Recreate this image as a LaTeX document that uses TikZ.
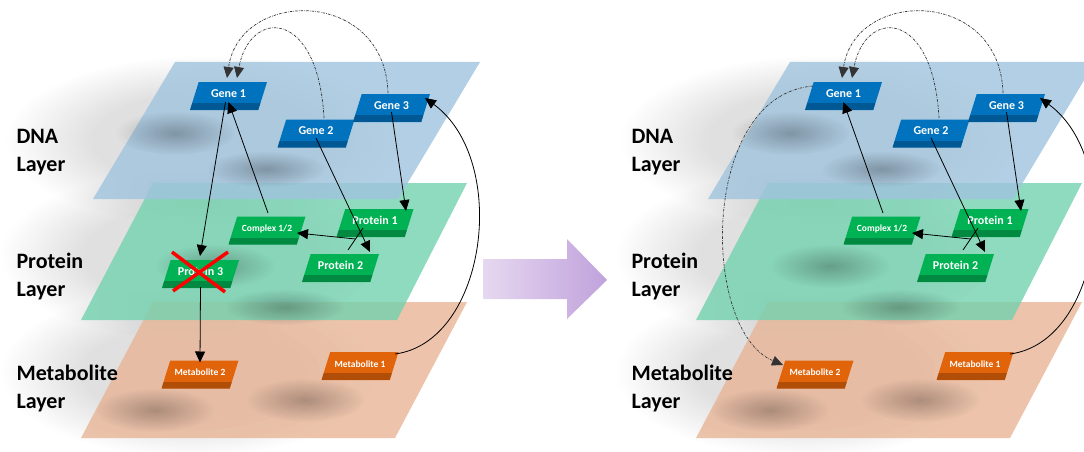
\documentclass[tikz,border=0pt]{standalone}
\usepackage{fontspec}
\setmainfont{Carlito}
\usepackage{xcolor}
\usepackage{tikz}
\usetikzlibrary{shapes.geometric, arrows.meta, positioning, calc, fadings}

\definecolor{dnablue}{RGB}{160,195,222}
\definecolor{protgreen}{RGB}{115,210,175}
\definecolor{metaborange}{RGB}{232,180,150}
\definecolor{geneblue}{RGB}{0,114,190}
\definecolor{nodegreen}{RGB}{0,178,84}
\definecolor{nodeorange}{RGB}{226,100,10}
\definecolor{arrowleft}{RGB}{230,216,240}
\definecolor{arrowright}{RGB}{192,162,220}

\pgfdeclareradialshading{blobshade}{\pgfpointorigin}{color(0bp)=(white!85!black); color(25bp)=(black); color(50bp)=(black)}
\pgfdeclarefading{blob}{\pgfuseshading{blobshade}}
\pgfdeclareradialshading{glowshade}{\pgfpointorigin}{color(0bp)=(white); color(14bp)=(white); color(25bp)=(black); color(50bp)=(black)}
\pgfdeclarefading{glow}{\pgfuseshading{glowshade}}

\tikzset{
    layer/.style={
        opacity=0.8
    },
    layerlabel/.style={
        anchor=west,
        align=left,
        font=\bfseries\fontsize{22}{28}\selectfont
    },
    block/.style={
        trapezium,
        trapezium left angle=59,
        trapezium right angle=121,
        trapezium stretches body,
        minimum width=77pt,
        minimum height=28pt,
        inner sep=0pt,
        text=white,
        text height=8.5pt,
        text depth=6pt,
        path picture={\fill[black,opacity=.22] (path picture bounding box.south west) rectangle ([yshift=7pt]path picture bounding box.south east);}
    },
    gene/.style={
        block,
        fill=geneblue,
        font=\bfseries\fontsize{12}{13}\selectfont
    },
    protein/.style={
        block,
        fill=nodegreen,
        font=\bfseries\fontsize{12}{13}\selectfont
    },
    metab/.style={
        block,
        fill=nodeorange,
        font=\bfseries\fontsize{9.5}{11}\selectfont
    },
    wire/.style={
        draw=black,
        line width=0.8pt,
        -{Triangle[length=11pt,width=10pt]}
    },
    loopwire/.style={
        draw=black!80,
        line width=0.7pt,
        dash pattern=on 2.5pt off 1.2pt on 0.6pt off 1.2pt,
        -{Triangle[length=11pt,width=10pt]}
    },
    crossmark/.style={
        draw=red,
        line width=3.5pt
    }
}

\begin{document}
\begin{tikzpicture}[x=1pt, y=-1pt]
\useasboundingbox (0,0) rectangle (1084,452);
\clip (0,0) rectangle (1084,452);

\foreach \p/\dx in {a/0, b/615} {
\begin{scope}[shift={(\dx,0)}]

% Shadows
\fill[black, opacity=.12, path fading=glow] (205,140) ellipse (200 and 85);
\fill[black, opacity=.12, path fading=glow] (190,255) ellipse (190 and 85);
\fill[black, opacity=.12, path fading=glow] (190,372) ellipse (190 and 85);

% Layers
\fill[metaborange, layer] (153,302) -- (467,302) -- (395,438) -- (81,438) -- cycle;
\fill[black, opacity=.3, path fading=blob] (155,410) ellipse (60 and 22);
\fill[black, opacity=.3, path fading=blob] (305,400) ellipse (60 and 22);
\fill[protgreen, layer] (153,183) -- (467,183) -- (397,320) -- (81,320) -- cycle;
\fill[black, opacity=.3, path fading=blob] (215,266) ellipse (60 and 22);
\fill[black, opacity=.3, path fading=blob] (285,307) ellipse (60 and 18);
\fill[dnablue, layer] (175,62) -- (480,62) -- (398,199) -- (93,199) -- cycle;
\fill[black, opacity=.3, path fading=blob] (175,133) ellipse (60 and 22);
\fill[black, opacity=.3, path fading=blob] (266,169) ellipse (60 and 18);

% Labels
\node[layerlabel] (dna\p) at (13,152) {DNA\\Layer};
\node[layerlabel] (prot\p) at (13,277) {Protein\\Layer};
\node[layerlabel] (meta\p) at (13,389) {Metabolite\\Layer};

% Genes
\node[gene] (g1\p) at (228.5,96) {Gene 1};
\node[gene] (g2\p) at (316,133.5) {Gene 2};
\node[gene] (g3\p) at (391.5,108) {Gene 3};

% Proteins
\node[protein, font=\bfseries\fontsize{9.5}{11}\selectfont] (cx\p) at (267,230.5) {Complex 1/2};
\node[protein] (p1\p) at (375,223) {Protein 1};
\node[protein] (p2\p) at (340.5,268) {Protein 2};

% Metabolites
\node[metab] (m2\p) at (200,374.5) {Metabolite 2};
\node[metab] (m1\p) at (360,366) {Metabolite 1};

% Links
\draw[wire] ([xshift=1pt,yshift=17.5pt]cx\p.center) -- ([yshift=-6pt]g1\p.center);
\draw[wire] ([yshift=-4.5pt]g2\p.center) -- ([xshift=29.5pt,yshift=16pt]p2\p.center);
\draw[wire] ([yshift=-4pt]g3\p.center) -- ([xshift=31pt,yshift=12pt]p1\p.center);
\draw[line width=0.8pt] ([xshift=-12pt,yshift=-5pt]p1\p.center) coordinate (b1\p) -- ([xshift=7.5pt,yshift=18pt]p2\p.center) coordinate (b2\p);
\draw[wire] ($(b1\p)!0.5!(b2\p)$) -- ([xshift=30pt,yshift=-2.5pt]cx\p.center);
\draw[wire] ([xshift=35pt,yshift=12pt]m1\p.center) .. controls +(92,-12) and +(85,62) .. ([xshift=33.5pt,yshift=10pt]g3\p.center);
\draw[loopwire] ([xshift=8pt,yshift=15.5pt]g2\p.center) .. controls +(-6,-110) and +(13,-70) .. ([xshift=8.5pt,yshift=18pt]g1\p.center);
\draw[loopwire] ([xshift=-3.5pt,yshift=15pt]g3\p.center) .. controls +(-3,-105) and +(13,-90) .. ([xshift=-1.5pt,yshift=18pt]g1\p.center);

\end{scope}
}

% Knock-out (left)
\node[protein] (p3a) at (200.5,274) {Protein 3};
\draw[wire] ([xshift=-3pt,yshift=-6pt]g1a.center) -- ([xshift=-0.5pt,yshift=18pt]p3a.center);
\draw[wire] ([yshift=-13pt]p3a.center) -- ([yshift=12pt]m2a.center);
\draw[crossmark] ([xshift=-28.5pt,yshift=22pt]p3a.center) -- ([xshift=24.5pt,yshift=-18pt]p3a.center);
\draw[crossmark] ([xshift=27.5pt,yshift=22pt]p3a.center) -- ([xshift=-27.5pt,yshift=-17pt]p3a.center);

% Rewired (right)
\draw[loopwire] ([xshift=-30.5pt,yshift=10pt]g1b.center) .. controls +(-113,9) and +(-83,-35) .. ([xshift=-32pt,yshift=9.5pt]m2b.center);

% Transition arrow
\shade[left color=arrowleft, right color=arrowright] (483,259) -- (567,259) -- (567,239) -- (607,280) -- (567,319) -- (567,299) -- (483,299) -- cycle;

\end{tikzpicture}
\end{document}
